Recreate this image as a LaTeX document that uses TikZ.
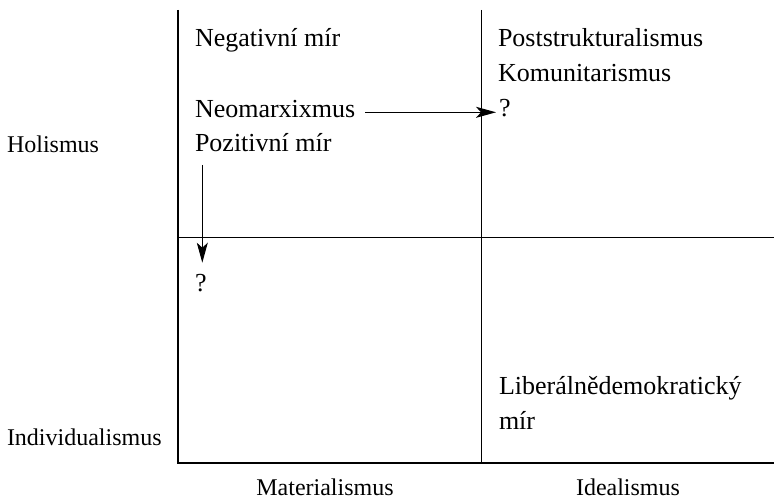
\documentclass[tikz,border=0pt]{standalone}
\usepackage{fontspec}
\setmainfont{Liberation Serif}
\newfontfamily\timesf{Liberation Serif}
\usetikzlibrary{arrows.meta,calc}
\begin{document}
\begin{tikzpicture}[x=1pt,y=-1pt,
  lbl/.style={inner sep=0pt,outer sep=0pt,anchor=base west,font=\timesf\fontsize{26}{30}\selectfont},
  albl/.style={inner sep=0pt,outer sep=0pt,anchor=base west,font=\timesf\fontsize{24}{28}\selectfont},
  clbl/.style={inner sep=0pt,outer sep=0pt,anchor=base,font=\timesf\fontsize{24}{28}\selectfont},
  axisline/.style={line width=2pt},
  gridline/.style={line width=1pt},
  arr/.style={line width=1pt,-{Stealth[length=20pt,width=11pt,inset=5pt]}}]
\useasboundingbox (0,0) rectangle (774,500);
% axes and grid
\coordinate (top) at (178,10);
\coordinate (origin) at (178,463);
\coordinate (right) at (774,463);
\coordinate (midtop) at (481,10);
\coordinate (midbot) at (481,463);
\coordinate (hl) at (178,237);
\coordinate (hr) at (774,237);
\draw[gridline] (midtop) -- (midbot);
\draw[gridline] (hl) -- (hr);
\draw[axisline] (top) -- (origin) -- (right);
% texts
\node[lbl] (neg) at (195,46.7) {Negativní mír};
\node[lbl] (neo) at (195,117.7) {Neomarxixmus};
\node[lbl] (poz) at (195,151.7) {Pozitivní mír};
\node[lbl] (q2) at (195,291.7) {?};
\node[lbl] (post) at (498,46.7) {Poststrukturalismus};
\node[lbl] (komu) at (498,81.7) {Komunitarismus};
\node[lbl] (q1) at (499,116.7) {?};
\node[lbl] (lib) at (499,394.3) {Liberálnědemokratický};
\node[lbl] (mir) at (499,429.3) {mír};
\node[albl] (hol) at (7,152.7) {Holismus};
\node[albl] (ind) at (7,445.7) {Individualismus};
\node[clbl] (mat) at (325,495) {Materialismus};
\node[clbl] (ide) at (628,495) {Idealismus};
% arrows
\draw[arr] ($(neo.base east)+(10,-5.4)$) -- ($(q1.base west)+(-3,-4.4)$);
\draw[arr] ($(poz.base west)+(7.3,13.3)$) -- ($(q2.base west)+(7.3,-29)$);
\end{tikzpicture}
\end{document}
